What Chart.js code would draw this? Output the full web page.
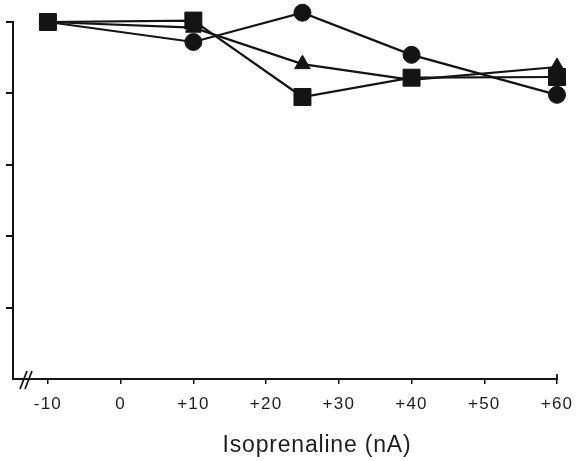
<!DOCTYPE html>
<html>
<head>
<meta charset="utf-8">
<script src="https://cdn.jsdelivr.net/npm/chart.js@4/dist/chart.umd.min.js"></script>
<style>
  html, body { margin: 0; padding: 0; background: #fff; }
  #c { display: block; }
</style>
</head>
<body>
<canvas id="c" width="584" height="461"></canvas>
<script>
// ---- data ----
const xValues = [-10, 10, 25, 40, 60];
const circleValues   = [5.00, 4.72, 5.13, 4.54, 3.98];
const triangleValues = [5.00, 4.92, 4.41, 4.19, 4.37];
const squareValues   = [5.00, 5.02, 3.95, 4.22, 4.23];
const xTickValues = [-10, 0, 10, 20, 30, 40, 50, 60];
const xTickLabels = ['-10', '0', '+10', '+20', '+30', '+40', '+50', '+60'];
const yTickValues = [0, 1, 2, 3, 4, 5];
const xAxisTitle = 'Isoprenaline (nA)';

const INK = '#141414';

function pts(vals) { return xValues.map((x, i) => ({ x: x, y: vals[i] })); }

const decor = {
  id: 'decor',
  beforeDraw(chart) {
    chart.ctx.letterSpacing = '1.2px';
  },
  afterDraw(chart) {
    const ctx = chart.ctx;
    const a = chart.chartArea;
    ctx.save();
    ctx.letterSpacing = '0.8px';
    ctx.fillStyle = '#1e1e1e';
    ctx.font = '23px "Liberation Sans", Arial, sans-serif';
    ctx.textAlign = 'center';
    ctx.textBaseline = 'alphabetic';
    ctx.fillText(xAxisTitle, 317, 452);
    // axis break marks
    ctx.strokeStyle = INK;
    ctx.lineWidth = 1.8;
    ctx.beginPath();
    ctx.moveTo(20, 389); ctx.lineTo(27, 371);
    ctx.moveTo(25, 389); ctx.lineTo(32, 371);
    ctx.stroke();
    // small upturn at right end of x axis
    ctx.beginPath();
    ctx.moveTo(a.right, a.bottom + 1); ctx.lineTo(a.right, a.bottom - 5);
    ctx.stroke();
    ctx.restore();
  }
};

new Chart(document.getElementById('c'), {
  type: 'line',
  data: {
    datasets: [
      { label: 'square', data: pts(squareValues), pointStyle: 'rect', pointRadius: 12,
        borderColor: INK, backgroundColor: INK, pointBackgroundColor: INK, pointBorderColor: INK,
        pointBorderWidth: 1, borderWidth: 2.2, tension: 0, clip: false, order: 0 },
      { label: 'triangle', data: pts(triangleValues), pointStyle: 'triangle', pointRadius: 9,
        borderColor: INK, backgroundColor: INK, pointBackgroundColor: INK, pointBorderColor: INK,
        pointBorderWidth: 1, borderWidth: 2.2, tension: 0, clip: false, order: 1 },
      { label: 'circle', data: pts(circleValues), pointStyle: 'circle', pointRadius: 8.5,
        borderColor: INK, backgroundColor: INK, pointBackgroundColor: INK, pointBorderColor: INK,
        pointBorderWidth: 1, borderWidth: 2.2, tension: 0, clip: false, order: 2 }
    ]
  },
  options: {
    responsive: false,
    animation: false,
    devicePixelRatio: 1,
    layout: { padding: { left: 0, right: 27, top: 22, bottom: 0 } },
    plugins: { legend: { display: false }, tooltip: { enabled: false }, title: { display: false } },
    scales: {
      x: {
        type: 'linear',
        min: -14.8, max: 60,
        afterBuildTicks: (s) => { s.ticks = xTickValues.map(v => ({ value: v })); },
        afterFit: (s) => { s.height = 82; },
        border: { display: true, color: INK, width: 2 },
        grid: { drawOnChartArea: false, drawTicks: true, tickLength: 5, color: INK, lineWidth: 1.5 },
        ticks: {
          autoSkip: false, maxRotation: 0, minRotation: 0, padding: 10,
          color: '#1e1e1e',
          font: { family: '"Liberation Sans", Arial, sans-serif', size: 17 },
          callback: (v) => { const i = xTickValues.indexOf(v); return i >= 0 ? xTickLabels[i] : ''; }
        }
      },
      y: {
        type: 'linear',
        min: 0, max: 5,
        afterBuildTicks: (s) => { s.ticks = yTickValues.map(v => ({ value: v })); },
        afterFit: (s) => { s.width = 12; },
        border: { display: true, color: INK, width: 2 },
        grid: {
          drawOnChartArea: false, drawTicks: true, tickLength: 7, lineWidth: 2,
          color: (c) => (c.tick && c.tick.value === 0) ? 'rgba(0,0,0,0)' : INK
        },
        ticks: { display: false }
      }
    }
  },
  plugins: [decor]
});
</script>
</body>
</html>
